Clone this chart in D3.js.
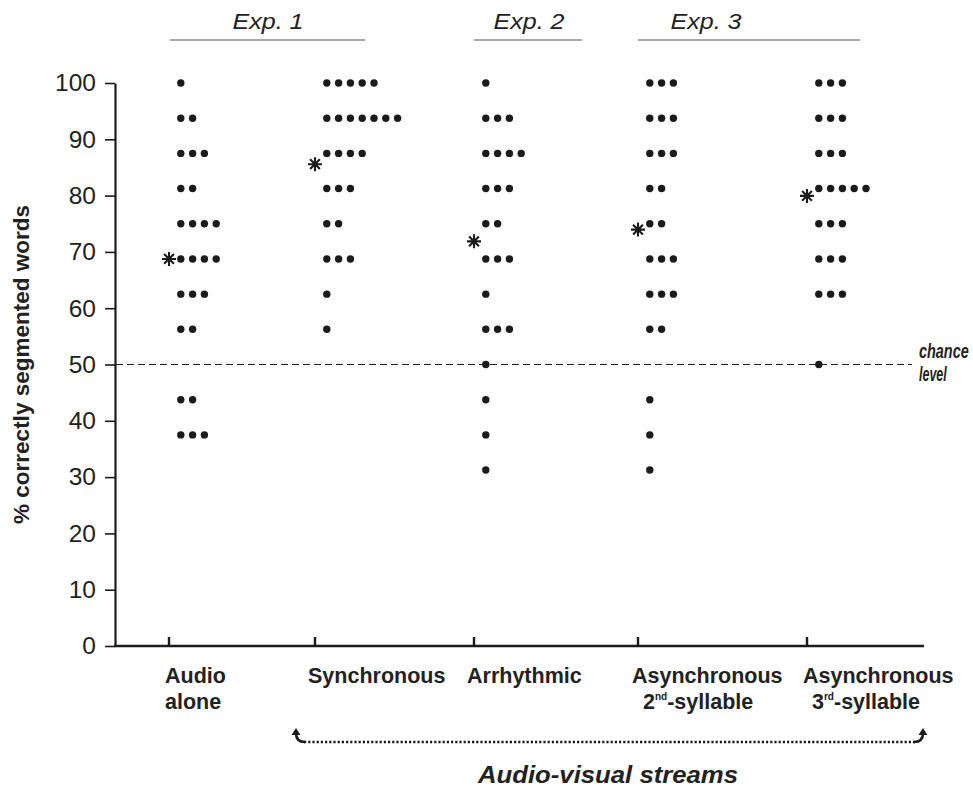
<!DOCTYPE html>
<html>
<head>
<meta charset="utf-8">
<script src="https://cdn.jsdelivr.net/npm/d3@7"></script>
<style>
  html, body { margin: 0; padding: 0; background: #fff; }
  svg { display: block; font-family: "Liberation Sans", Arial, sans-serif; }
</style>
</head>
<body>
<div id="vis"></div>
<script>
// dot plot of individual scores per condition, with group means as asterisks

const categories = ["Audio alone", "Synchronous", "Arrhythmic", "Asynchronous 2nd", "Asynchronous 3rd"];
// score levels (n/16 words correct) and number of participants at each level
const levels = [100, 93.75, 87.5, 81.25, 75, 68.75, 62.5, 56.25, 50, 43.75, 37.5, 31.25];
const audioAlone  = [1, 2, 3, 2, 4, 4, 3, 2, 0, 2, 3, 0];
const synchronous = [5, 7, 4, 3, 2, 3, 1, 1, 0, 0, 0, 0];
const arrhythmic  = [1, 3, 4, 3, 2, 3, 1, 3, 1, 1, 1, 1];
const async2nd    = [3, 3, 3, 2, 2, 3, 3, 2, 0, 1, 1, 1];
const async3rd    = [3, 3, 3, 5, 3, 3, 3, 0, 1, 0, 0, 0];
const counts = [audioAlone, synchronous, arrhythmic, async2nd, async3rd];
const yTicks = [0, 10, 20, 30, 40, 50, 60, 70, 80, 90, 100];
const chanceLevel = 50;
const experiments = ["Exp. 1", "Exp. 2", "Exp. 3"];

const width = 973, height = 788;
const ink = "#1b1b1b";

const svg = d3.select("#vis").append("svg")
  .attr("width", width)
  .attr("height", height);

// scales
const y = d3.scaleLinear().domain([0, 100]).range([646, 83]);
const x = d3.scaleOrdinal().domain(categories).range([169, 315, 474, 638, 807]);
const dotStep = 11.8;

// y axis
const yAxis = svg.append("g")
  .attr("transform", "translate(115,0)")
  .call(d3.axisLeft(y).tickValues(yTicks).tickSize(10).tickPadding(9).tickSizeOuter(0));
yAxis.select(".domain").attr("stroke", ink).attr("stroke-width", 2.2);
yAxis.selectAll(".tick line").attr("stroke", ink).attr("stroke-width", 1.6);
yAxis.selectAll(".tick text")
  .attr("fill", "#222")
  .style("font-size", "24.5px")
  .style("font-family", "'Liberation Sans', Arial, sans-serif");

// x axis line + ticks pointing up
svg.append("line")
  .attr("x1", 114).attr("x2", 924)
  .attr("y1", y(0)).attr("y2", y(0))
  .attr("stroke", ink).attr("stroke-width", 2.4);
svg.selectAll("line.xtick").data(categories).enter().append("line")
  .attr("class", "xtick")
  .attr("x1", d => x(d)).attr("x2", d => x(d))
  .attr("y1", y(0)).attr("y2", y(0) - 9)
  .attr("stroke", ink).attr("stroke-width", 2.4);

// chance level (narrow lettering, squeezed with a scale transform)
svg.append("line")
  .attr("x1", 116).attr("x2", 912)
  .attr("y1", y(chanceLevel)).attr("y2", y(chanceLevel))
  .attr("stroke", ink).attr("stroke-width", 1)
  .attr("stroke-dasharray", "7,4");
const chanceStyle = t => t.attr("fill", "#222")
  .style("font-size", "19.5px").style("font-weight", "bold").style("font-style", "italic");
svg.append("text").call(chanceStyle)
  .attr("transform", `translate(919,${y(chanceLevel) - 7}) scale(0.74,1)`)
  .text("chance");
svg.append("text").call(chanceStyle)
  .attr("transform", `translate(919,${y(chanceLevel) + 16}) scale(0.64,1)`)
  .text("level");

// dots
const dots = [];
counts.forEach((arr, ci) => {
  arr.forEach((n, li) => {
    for (let k = 0; k < n; k++) dots.push({ cat: categories[ci], value: levels[li], k });
  });
});
svg.selectAll("circle.dot").data(dots).enter().append("circle")
  .attr("class", "dot")
  .attr("cx", d => x(d.cat) + dotStep * (d.k + 1))
  .attr("cy", d => y(d.value))
  .attr("r", 3.7)
  .attr("fill", ink);

// means as asterisks
const means = categories.map((c, i) => ({
  cat: c,
  mean: d3.sum(levels, (v, j) => v * counts[i][j]) / d3.sum(counts[i])
}));
const star = "M0,-7V7M-7,0H7M-4.9,-4.9L4.9,4.9M-4.9,4.9L4.9,-4.9";
svg.selectAll("path.mean").data(means).enter().append("path")
  .attr("class", "mean")
  .attr("transform", d => `translate(${x(d.cat)},${y(d.mean)})`)
  .attr("d", star)
  .attr("stroke", ink).attr("stroke-width", 2.1)
  .attr("fill", "none");

// experiment brackets on top
const brackets = [
  { label: experiments[0], x0: x(categories[0]) + 1, x1: x(categories[1]) + 50, tx: 268 },
  { label: experiments[1], x0: x(categories[2]), x1: x(categories[2]) + 108, tx: 529 },
  { label: experiments[2], x0: x(categories[3]), x1: x(categories[4]) + 53, tx: 706 }
];
svg.selectAll("line.exp").data(brackets).enter().append("line")
  .attr("class", "exp")
  .attr("x1", d => d.x0).attr("x2", d => d.x1)
  .attr("y1", 40).attr("y2", 40)
  .attr("stroke", "#555").attr("stroke-width", 1.2);
svg.selectAll("text.exp").data(brackets).enter().append("text")
  .attr("class", "exp")
  .attr("x", d => d.tx).attr("y", 29)
  .attr("text-anchor", "middle")
  .attr("fill", "#222")
  .style("font-size", "22px").style("font-style", "italic")
  .attr("textLength", 71).attr("lengthAdjust", "spacingAndGlyphs")
  .text(d => d.label);

// category labels
const labelSize = "21.5px";
function catLabel(cat, dx, line1, line2dx, line2, sup, rest) {
  svg.append("text")
    .attr("x", x(cat) + dx).attr("y", 683)
    .attr("fill", "#222")
    .style("font-size", labelSize).style("font-weight", "bold")
    .text(line1);
  if (line2) {
    const t2 = svg.append("text")
      .attr("x", x(cat) + line2dx).attr("y", 709)
      .attr("fill", "#222")
      .style("font-size", labelSize).style("font-weight", "bold");
    t2.append("tspan").text(line2);
    if (sup) {
      t2.append("tspan").attr("dy", -9).style("font-size", "10px").text(sup);
      t2.append("tspan").attr("dy", 9).text(rest);
    }
  }
}
catLabel(categories[0], -4, "Audio", -4, "alone");
catLabel(categories[1], -7, "Synchronous");
catLabel(categories[2], -7, "Arrhythmic");
catLabel(categories[3], -6, "Asynchronous", 5, "2", "nd", "-syllable");
catLabel(categories[4], -4, "Asynchronous", 5, "3", "rd", "-syllable");

// audio-visual streams dotted arrow
const ay = 742;
const ax0 = 296, ax1 = 923;
svg.append("line")
  .attr("x1", ax0 + 8).attr("x2", ax1 - 8)
  .attr("y1", ay).attr("y2", ay)
  .attr("stroke", ink).attr("stroke-width", 2.6)
  .attr("stroke-dasharray", "2.2,2");
svg.append("path")
  .attr("d", `M${ax0 + 9},${ay} Q${ax0},${ay} ${ax0},${ay - 9}`)
  .attr("stroke", ink).attr("stroke-width", 2.6).attr("fill", "none");
svg.append("path")
  .attr("d", `M${ax1 - 9},${ay} Q${ax1},${ay} ${ax1},${ay - 9}`)
  .attr("stroke", ink).attr("stroke-width", 2.6).attr("fill", "none");
svg.selectAll("path.head").data([ax0, ax1]).enter().append("path")
  .attr("class", "head")
  .attr("d", d => `M${d - 4.5},${ay - 7} L${d},${ay - 14} L${d + 4.5},${ay - 7} Z`)
  .attr("fill", ink);
svg.append("text")
  .attr("x", 608).attr("y", 783)
  .attr("text-anchor", "middle")
  .attr("fill", "#222")
  .style("font-size", "24px").style("font-weight", "bold").style("font-style", "italic")
  .attr("textLength", 260).attr("lengthAdjust", "spacingAndGlyphs")
  .text("Audio-visual streams");

// y axis title
svg.append("text")
  .attr("transform", `translate(29,${y(50)}) rotate(-90)`)
  .attr("text-anchor", "middle")
  .attr("fill", "#222")
  .style("font-size", "22.5px").style("font-weight", "bold")
  .text("% correctly segmented words");
</script>
</body>
</html>
